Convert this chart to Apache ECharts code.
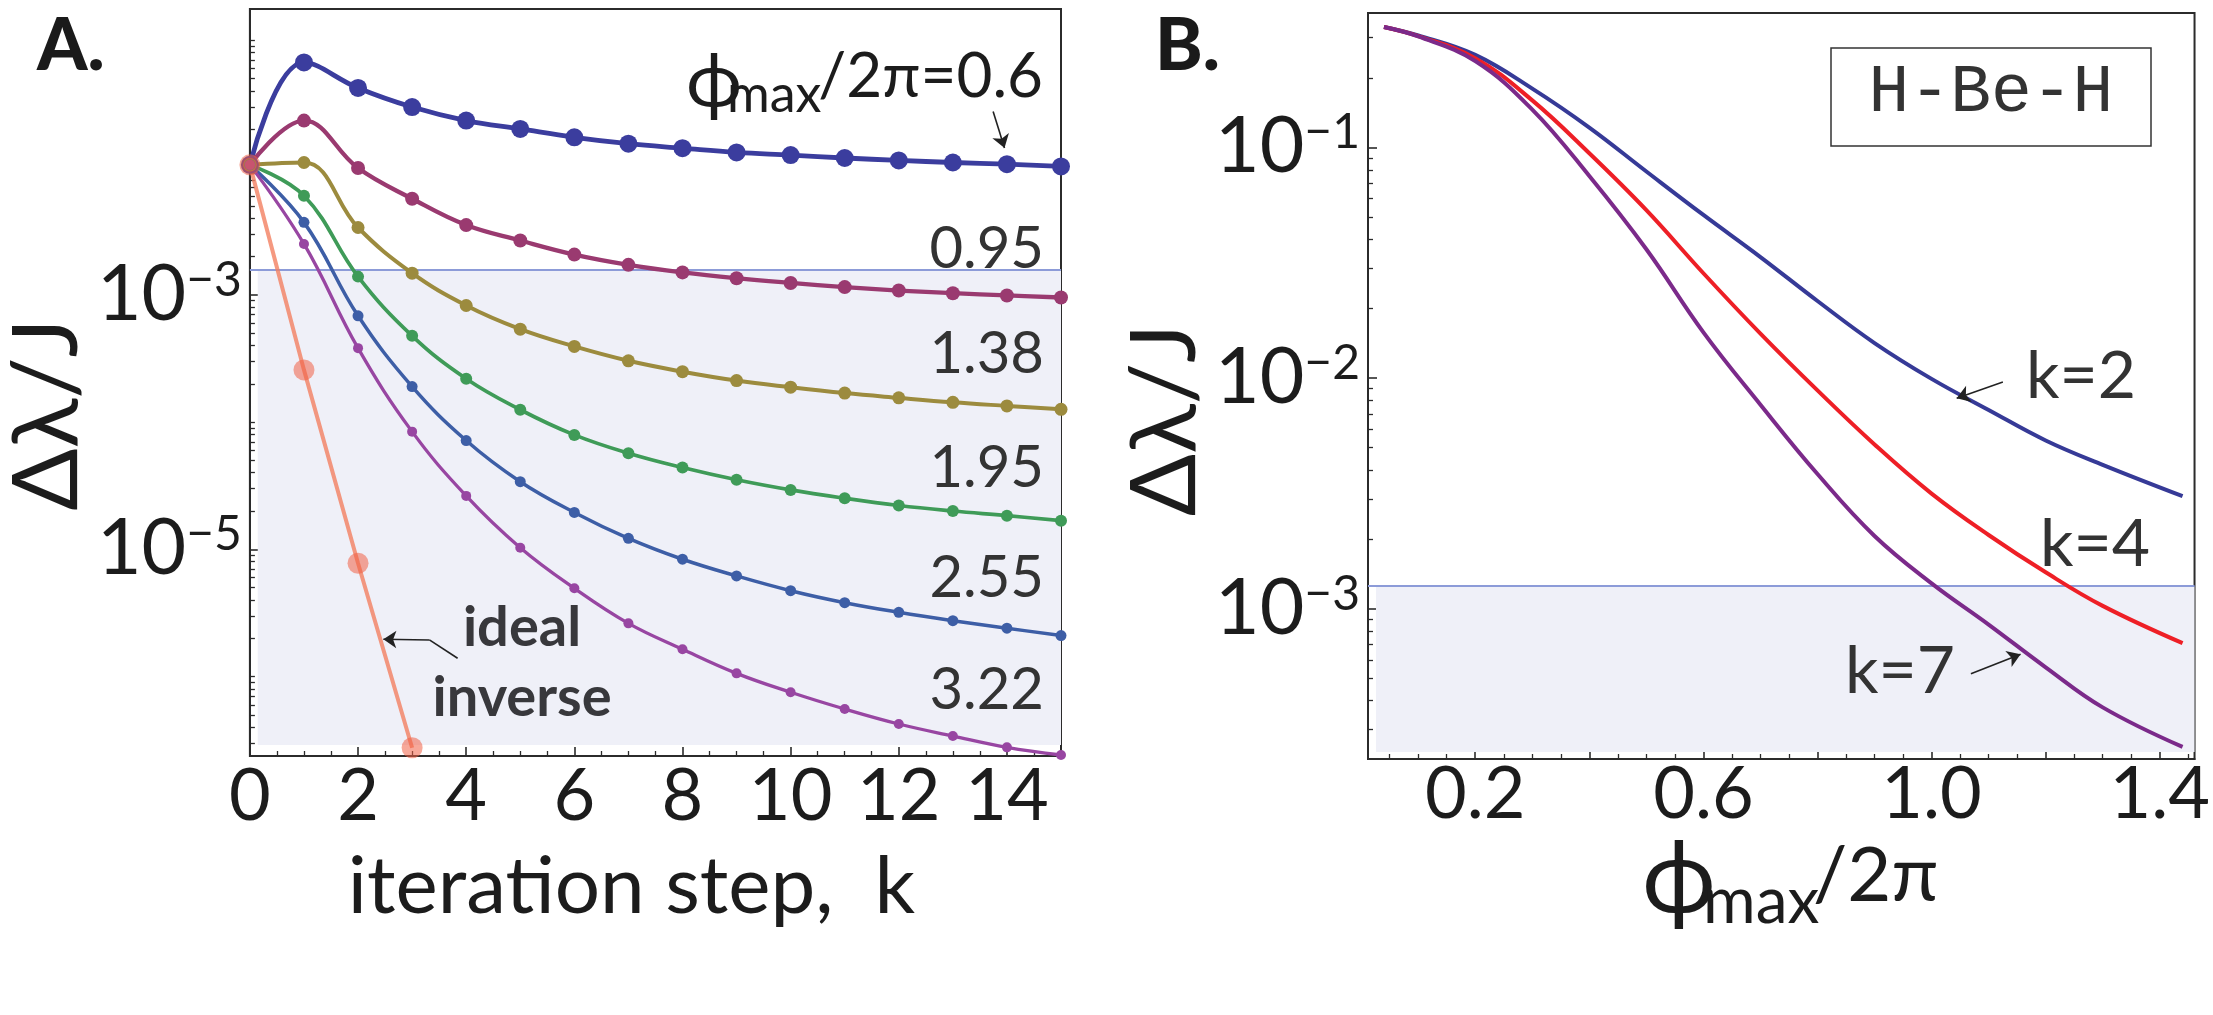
<!DOCTYPE html>
<html>
<head>
<meta charset="UTF-8">
<title>Δλ/J vs iteration step and ϕmax/2π</title>
<script src="https://cdn.jsdelivr.net/npm/echarts@6.0.0/dist/echarts.min.js"></script>
<style>
  html, body { margin: 0; padding: 0; background: #fff; }
  #main { width: 2213px; height: 1015px; }
</style>
</head>
<body>
<div id="main"></div>
<script type="text/javascript">
// ---- panel A : delta lambda / J against iteration step k ----
var kSteps = [0, 1, 2, 3, 4, 5, 6, 7, 8, 9, 10, 11, 12, 13, 14, 15];
var phiLabels = ['0.95', '1.38', '1.95', '2.55', '3.22'];
var dl_060 = [1.05e-2, 6.70e-2, 4.22e-2, 2.99e-2, 2.34e-2, 2.01e-2, 1.73e-2, 1.54e-2, 1.42e-2, 1.315e-2, 1.253e-2, 1.189e-2, 1.138e-2, 1.096e-2, 1.064e-2, 1.021e-2];
var dl_095 = [1.05e-2, 2.34e-2, 9.91e-3, 5.69e-3, 3.53e-3, 2.67e-3, 2.07e-3, 1.72e-3, 1.50e-3, 1.35e-3, 1.24e-3, 1.15e-3, 1.08e-3, 1.03e-3, 9.89e-4, 9.53e-4];
var dl_138 = [1.05e-2, 1.096e-2, 3.38e-3, 1.48e-3, 8.24e-4, 5.37e-4, 3.93e-4, 3.03e-4, 2.49e-4, 2.12e-4, 1.88e-4, 1.69e-4, 1.55e-4, 1.43e-4, 1.34e-4, 1.26e-4];
var dl_195 = [1.05e-2, 6.0e-3, 1.39e-3, 4.76e-4, 2.19e-4, 1.25e-4, 7.93e-5, 5.69e-5, 4.39e-5, 3.52e-5, 2.93e-5, 2.52e-5, 2.21e-5, 2.0e-5, 1.84e-5, 1.68e-5];
var dl_255 = [1.05e-2, 3.71e-3, 6.84e-4, 1.90e-4, 7.16e-5, 3.40e-5, 1.95e-5, 1.22e-5, 8.36e-6, 6.18e-6, 4.73e-6, 3.81e-6, 3.20e-6, 2.75e-6, 2.40e-6, 2.10e-6];
var dl_322 = [1.05e-2, 2.51e-3, 3.81e-4, 8.41e-5, 2.63e-5, 1.03e-5, 4.94e-6, 2.62e-6, 1.64e-6, 1.06e-6, 7.53e-7, 5.56e-7, 4.24e-7, 3.41e-7, 2.78e-7, 2.42e-7];
var idealSteps = [0, 1, 2, 3];
var dl_ideal = [1.05e-2, 2.57e-4, 7.78e-6, 2.76e-7];
var thresholdA = 1.59e-3;
var xTicksA = [0, 2, 4, 6, 8, 10, 12, 14];

// ---- panel B : delta lambda / J against phi_max / 2pi ----
var phiMax = [0.04, 0.1, 0.2, 0.3, 0.4, 0.5, 0.6, 0.7, 0.8, 0.9, 1.0, 1.1, 1.2, 1.3, 1.44];
var dl_k2 = [0.333, 0.306, 0.252, 0.180, 0.122, 0.0787, 0.0510, 0.0335, 0.0216, 0.0142, 9.93e-3, 7.28e-3, 5.37e-3, 4.21e-3, 3.08e-3];
var dl_k4 = [0.333, 0.304, 0.244, 0.160, 0.0944, 0.0535, 0.0285, 0.0156, 8.85e-3, 5.16e-3, 3.16e-3, 2.09e-3, 1.44e-3, 1.03e-3, 7.10e-4];
var dl_k7 = [0.333, 0.303, 0.237, 0.146, 0.0752, 0.0362, 0.0158, 7.67e-3, 3.84e-3, 2.07e-3, 1.29e-3, 8.55e-4, 5.58e-4, 3.74e-4, 2.52e-4];
var thresholdB = 1.25e-3;
var xTicksB = [0.2, 0.4, 0.6, 0.8, 1.0, 1.2, 1.4];
var xLabelsB = [0.2, 0.6, 1.0, 1.4];

var fontMain = "Lato, 'Noto Sans', 'DejaVu Sans', sans-serif";
var ink = '#1c1c1c';

function lg(v) { return Math.log10(v); }
function pairs(xs, ys) { return xs.map(function (x, i) { return [x, lg(ys[i])]; }); }
function logTicks(d0, d1, mults) {
  var out = [];
  for (var d = d0; d <= d1; d++) mults.forEach(function (m) { out.push(d + Math.log10(m)); });
  return out;
}
function steps(a, b, s) {
  var out = [];
  for (var v = a; v <= b + 1e-9; v += s) out.push(Math.round(v * 1000) / 1000);
  return out;
}

// axis ranges (log10 on y)
var yMinA = -6.624, yMaxA = -0.754;
var yMinB = -3.651, yMaxB = -0.417;
var xMinB = 0.012, xMaxB = 1.461;

var yMajorA = [-5, -3];
var yMinorA = logTicks(-7, -1, [1, 2, 3, 4, 5, 6, 7, 8, 9]).filter(function (v) { return Math.abs(v + 3) > 1e-6 && Math.abs(v + 5) > 1e-6; });
var yMajorB = [-3, -2, -1];
var yMinorB = logTicks(-4, -1, [2, 3, 4, 5, 6, 7, 8, 9]);
var xMinorA = steps(0.5, 15, 0.5).filter(function (v) { return v % 2 !== 0; });
var xMinorB = steps(0.05, 1.45, 0.05).filter(function (v) { return Math.abs(v * 5 - Math.round(v * 5)) > 1e-6; });

var supRich = {
  b: { fontSize: 77, fontFamily: fontMain, color: ink, lineHeight: 77 },
  s: { fontSize: 48, fontFamily: fontMain, color: ink, verticalAlign: 'top', lineHeight: 31 }
};
function powLabel(v) { return '{b|10}{s|\u2212' + Math.round(-v) + '}'; }

function majorAxisX(grid, min, max, ticks, labels, fmt, margin) {
  return {
    type: 'value', gridIndex: grid, min: min, max: max, position: 'bottom',
    axisLine: { show: true, onZero: false, lineStyle: { color: '#2b2b2b', width: 2 } },
    axisTick: { show: true, inside: true, length: 9, customValues: ticks, lineStyle: { color: '#2b2b2b', width: 1.6 } },
    axisLabel: { show: true, customValues: labels, formatter: fmt, fontSize: 72, fontFamily: fontMain, color: ink, margin: margin },
    splitLine: { show: false }
  };
}
function minorAxisX(grid, min, max, ticks) {
  return {
    type: 'value', gridIndex: grid, min: min, max: max, position: 'bottom',
    axisLine: { show: false, onZero: false },
    axisTick: { show: true, inside: true, length: 5, customValues: ticks, lineStyle: { color: '#2b2b2b', width: 1.3 } },
    axisLabel: { show: false }, splitLine: { show: false }
  };
}
function majorAxisY(grid, min, max, ticks) {
  return {
    type: 'value', gridIndex: grid, min: min, max: max, position: 'left',
    axisLine: { show: true, onZero: false, lineStyle: { color: '#2b2b2b', width: 2 } },
    axisTick: { show: true, inside: true, length: 9, customValues: ticks, lineStyle: { color: '#2b2b2b', width: 1.6 } },
    axisLabel: { show: true, customValues: ticks, formatter: powLabel, margin: 8, rich: supRich },
    splitLine: { show: false }
  };
}
function minorAxisY(grid, min, max, ticks) {
  return {
    type: 'value', gridIndex: grid, min: min, max: max, position: 'left',
    axisLine: { show: false, onZero: false },
    axisTick: { show: true, inside: true, length: 5, customValues: ticks, lineStyle: { color: '#2b2b2b', width: 1.3 } },
    axisLabel: { show: false }, splitLine: { show: false }
  };
}

var xA = majorAxisX(0, 0, 15, xTicksA, xTicksA, null, 5);
xA.name = 'iteration step,  k';
xA.nameLocation = 'middle';
xA.nameGap = 91;
xA.nameTextStyle = { fontSize: 80, fontFamily: fontMain, color: ink, padding: [0, 48, 0, 0] };

var xB = majorAxisX(2, xMinB, xMaxB, xTicksB, xLabelsB, function (v) { return v.toFixed(1); }, 0);

var yA = majorAxisY(0, yMinA, yMaxA, yMajorA);
yA.name = '\u0394\u03bb/J';
yA.nameLocation = 'middle';
yA.nameRotate = 90;
yA.nameGap = 116;
yA.nameTextStyle = { fontSize: 92, fontFamily: fontMain, color: ink, padding: [0, 64, 0, 0] };

var yB = majorAxisY(2, yMinB, yMaxB, yMajorB);
yB.name = '\u0394\u03bb/J';
yB.nameLocation = 'middle';
yB.nameRotate = 90;
yB.nameGap = 122;
yB.nameTextStyle = { fontSize: 92, fontFamily: fontMain, color: ink, padding: [0, 68, 0, 0] };

function curve(xi, yi, xs, ys, color, width, size, smooth) {
  return {
    type: 'line', xAxisIndex: xi, yAxisIndex: yi, data: pairs(xs, ys),
    smooth: smooth, symbol: size ? 'circle' : 'none', symbolSize: size, showSymbol: !!size,
    lineStyle: { color: color, width: width }, itemStyle: { color: color }, z: 3, silent: true
  };
}

// plain text helper for the annotations
function txt(x, y, s, size, align, extra) {
  var st = { text: s, fontSize: size, fontFamily: fontMain, fill: '#333',
    align: align, verticalAlign: 'middle', textAlign: align, textVerticalAlign: 'middle' };
  for (var key in (extra || {})) st[key] = extra[key];
  return { type: 'text', x: x, y: y, z: 100, style: st };
}

var thrA = lg(thresholdA), thrB = lg(thresholdB);

var option = {
  animation: false,
  backgroundColor: '#ffffff',
  grid: [
    { left: 232, top: 9, width: 829, height: 747, show: true, borderColor: '#2b2b2b', borderWidth: 2, backgroundColor: 'transparent' },
    { left: 232, top: 9, width: 829, height: 747, show: false },
    { left: 1368, top: 13, width: 829, height: 746, show: true, borderColor: '#2b2b2b', borderWidth: 2, backgroundColor: 'transparent' },
    { left: 1368, top: 13, width: 829, height: 746, show: false }
  ],
  xAxis: [
    xA, minorAxisX(0, 0, 15, xMinorA),
    xB, minorAxisX(2, xMinB, xMaxB, xMinorB)
  ],
  yAxis: [
    yA, minorAxisY(0, yMinA, yMaxA, yMinorA),
    yB, minorAxisY(2, yMinB, yMaxB, yMinorB)
  ],
  series: [
    // shaded region below threshold + threshold line, panel A
    {
      type: 'line', xAxisIndex: 0, yAxisIndex: 0, data: [], silent: true, z: 1,
      markArea: { silent: true, z: 1, itemStyle: { color: '#eff0f8' },
        data: [[{ xAxis: 0.145, yAxis: thrA }, { xAxis: 15, yAxis: yMinA + 0.0865 }]] },
      markLine: { silent: true, z: 2, symbol: 'none', label: { show: false },
        lineStyle: { color: '#8c9bd8', width: 2, type: 'solid' }, data: [{ yAxis: thrA }] }
    },
    curve(0, 0, kSteps, dl_060, '#3b3d9e', 4.8, 18, 0.4),
    curve(0, 0, kSteps, dl_095, '#9a3a70', 4.3, 14, 0.4),
    curve(0, 0, kSteps, dl_138, '#9c8b3e', 4, 13, 0.4),
    curve(0, 0, kSteps, dl_195, '#3f9b58', 3.7, 12, 0.4),
    curve(0, 0, kSteps, dl_255, '#3d5ea6', 3.5, 11, 0.4),
    curve(0, 0, kSteps, dl_322, '#9846a2', 3.3, 10, 0.4),
    {
      type: 'line', xAxisIndex: 0, yAxisIndex: 0, data: pairs(idealSteps, dl_ideal), smooth: false,
      symbol: 'circle', symbolSize: 21, z: 3, silent: true,
      lineStyle: { color: 'rgba(242,128,96,0.8)', width: 4 },
      itemStyle: { color: 'rgba(240,96,70,0.55)' }
    },
    // arrows, panel A
    {
      type: 'line', xAxisIndex: 0, yAxisIndex: 0, data: [], silent: true, z: 5,
      markLine: { silent: true, symbol: ['none', 'arrow'], symbolSize: 13, label: { show: false },
        lineStyle: { color: '#222', width: 1.6, type: 'solid' },
        data: [
          [{ coord: [13.745, -1.559] }, { coord: [13.955, -1.847] }],
          [{ coord: [3.841, -5.856], symbol: 'none' }, { coord: [3.32, -5.712], symbol: 'none' }],
          [{ coord: [3.32, -5.712] }, { coord: [2.468, -5.707] }]
        ] }
    },
    // shaded region + threshold, panel B
    {
      type: 'line', xAxisIndex: 2, yAxisIndex: 2, data: [], silent: true, z: 1,
      markArea: { silent: true, z: 1, itemStyle: { color: '#eff0f8' },
        data: [[{ xAxis: xMinB + 0.014, yAxis: thrB }, { xAxis: xMaxB, yAxis: yMinB + 0.03 }]] },
      markLine: { silent: true, z: 2, symbol: 'none', label: { show: false },
        lineStyle: { color: '#8c9bd8', width: 2, type: 'solid' }, data: [{ yAxis: thrB }] }
    },
    curve(2, 2, phiMax, dl_k2, '#363a97', 4, 0, 0.4),
    curve(2, 2, phiMax, dl_k4, '#ee1f26', 4, 0, 0.4),
    curve(2, 2, phiMax, dl_k7, '#7b2a8a', 4, 0, 0.4),
    {
      type: 'line', xAxisIndex: 2, yAxisIndex: 2, data: [], silent: true, z: 5,
      markLine: { silent: true, symbol: ['none', 'arrow'], symbolSize: 13, label: { show: false },
        lineStyle: { color: '#222', width: 1.6, type: 'solid' },
        data: [
          [{ coord: [1.125, -2.017] }, { coord: [1.044, -2.087] }],
          [{ coord: [1.069, -3.281] }, { coord: [1.156, -3.197] }]
        ] }
    }
  ],
  graphic: [
    txt(37, 47, 'A.', 72, 'left', { fontWeight: 900, fill: '#1a1a1a' }),
    txt(1155, 47, 'B.', 72, 'left', { fontWeight: 900, fill: '#1a1a1a' }),
    // phi_max / 2pi = 0.6 (panel A)
    txt(686, 82, '\u03d5', 76, 'left', { fill: ink }),
    txt(727, 95, 'max', 52, 'left', { fill: ink }),
    txt(1043, 77, '/2\u03c0=0.6', 62, 'right', { fill: ink }),
    txt(1044, 249, phiLabels[0], 58, 'right'),
    txt(1044, 354, phiLabels[1], 58, 'right'),
    txt(1044, 468, phiLabels[2], 58, 'right'),
    txt(1044, 578, phiLabels[3], 58, 'right'),
    txt(1044, 690, phiLabels[4], 58, 'right'),
    txt(522, 663, 'ideal\ninverse', 56, 'center', { fontWeight: 'bold', lineHeight: 70, fill: '#38383c' }),
    // x title, panel B
    txt(1642, 880, '\u03d5', 100, 'left', { fill: ink }),
    txt(1703, 902, 'max', 64, 'left', { fill: ink }),
    txt(1813, 876, '/2\u03c0', 76, 'left', { fill: ink }),
    { type: 'rect', z: 90, shape: { x: 1831, y: 48, width: 320, height: 98 }, style: { fill: '#ffffff', stroke: '#333', lineWidth: 1.5 } },
    txt(1991, 93, 'H-Be-H', 68, 'center', { fontFamily: "'Liberation Mono', 'DejaVu Sans Mono', monospace", fill: '#333' }),
    txt(2026, 377, 'k=2', 66, 'left'),
    txt(2040, 545, 'k=4', 66, 'left'),
    txt(1845, 672, 'k=7', 66, 'left')
  ]
};

var myChart = echarts.init(document.getElementById('main'));
myChart.setOption(option);
</script>
</body>
</html>
